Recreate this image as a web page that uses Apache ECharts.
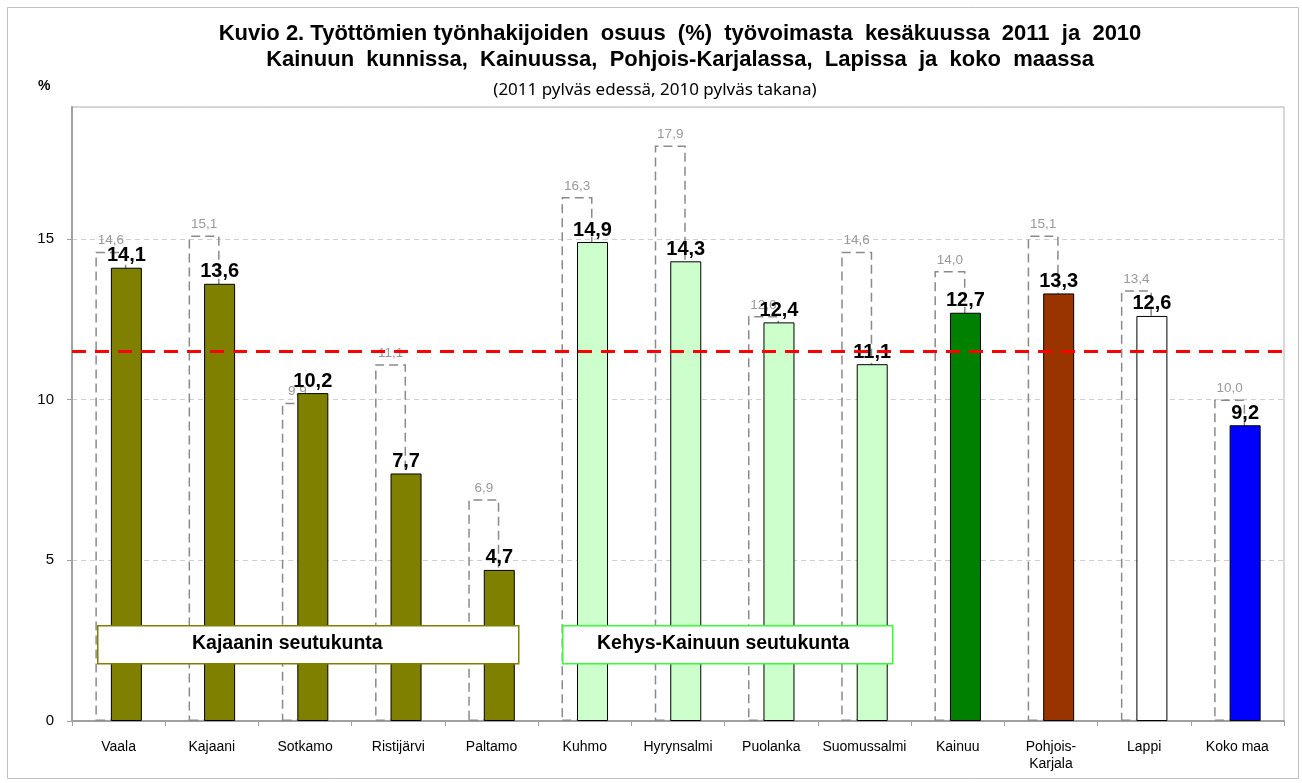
<!DOCTYPE html>
<html><head><meta charset="utf-8">
<script src="https://cdn.jsdelivr.net/npm/echarts@6/dist/echarts.min.js"></script>
<style>html,body{margin:0;padding:0;background:#fff}#c{width:1302px;height:783px}</style>
</head><body><div id="c"></div>
<script>
const categories = ['Vaala','Kajaani','Sotkamo','Ristijärvi','Paltamo','Kuhmo','Hyrynsalmi','Puolanka','Suomussalmi','Kainuu','Pohjois-\nKarjala','Lappi','Koko maa'];
const values2011 = [14.1,13.6,10.2,7.7,4.7,14.9,14.3,12.4,11.1,12.7,13.3,12.6,9.2];
const values2010 = [14.6,15.1,9.9,11.1,6.9,16.3,17.9,12.6,14.6,14.0,15.1,13.4,10.0];
const refLevel = 11.5;
const yTicks = [0,5,10,15];

const barColors = ['#808000','#808000','#808000','#808000','#808000','#CCFFCC','#CCFFCC','#CCFFCC','#CCFFCC','#008000','#993300','#FFFFFF','#0000FF'];
const fmt = v => v.toFixed(1).replace('.', ',');

const chart = echarts.init(document.getElementById('c'));
chart.setOption({
  animation: false,
  backgroundColor: '#fff',
  title: [
    {text: 'Kuvio 2. Työttömien työnhakijoiden  osuus  (%)  työvoimasta  kesäkuussa  2011  ja  2010\nKainuun  kunnissa,  Kainuussa,  Pohjois-Karjalassa,  Lapissa  ja  koko  maassa',
     left: 675, top: 16, textAlign: 'center',
     textStyle: {fontFamily: 'Arial', fontSize: 22, fontWeight: 'bold', color: '#000', lineHeight: 26}},
    {text: '(2011 pylväs edessä, 2010 pylväs takana)', left: 650, top: 77, textAlign: 'center',
     textStyle: {fontFamily: 'Noto Sans', fontSize: 17, fontWeight: 'normal', color: '#000'}},
    {text: '%', left: 33, top: 74, textStyle: {fontFamily: 'Arial', fontSize: 14, fontWeight: 'bold', color: '#000'}}
  ],
  grid: {left: 72, right: 18, top: 107, bottom: 62, show: true, borderColor: '#b0b0b0', borderWidth: 1},
  xAxis: {
    type: 'category', data: categories,
    axisLine: {lineStyle: {color: '#a0a0a0', width: 2}},
    axisTick: {show: true, length: 5, lineStyle: {color: '#a0a0a0'}},
    axisLabel: {fontFamily: 'Arial', fontSize: 14, color: '#000', margin: 18, lineHeight: 17, interval: 0}
  },
  yAxis: {
    type: 'value', min: 0, max: 19.1, interval: 5,
    axisLine: {show: true, lineStyle: {color: '#a0a0a0', width: 2}},
    axisTick: {show: true, length: 5, lineStyle: {color: '#a0a0a0'}},
    axisLabel: {fontFamily: 'Arial', fontSize: 15, color: '#000', margin: 18, showMaxLabel: false,
      formatter: v => yTicks.includes(v) ? String(v) : ''},
    splitLine: {show: true, lineStyle: {color: '#d0d0d0', type: [5, 4]}}
  },
  series: [
    {
      name: '2010', type: 'bar', barWidth: 31, barGap: '-50%',
      data: values2010,
      itemStyle: {color: 'rgba(0,0,0,0)', borderColor: '#8a8a8a', borderWidth: 1.5, borderType: [9, 5]},
      label: {show: true, position: 'top', distance: 4, formatter: p => fmt(p.value),
        fontFamily: 'Arial', fontSize: 13.5, color: '#999'},
      z: 2
    },
    {
      name: '2011', type: 'bar', barWidth: 31,
      data: values2011.map((v, i) => ({value: v, itemStyle: {color: barColors[i]}})),
      itemStyle: {borderColor: '#000', borderWidth: 1},
      label: {show: true, position: 'top', distance: 2, formatter: p => fmt(p.value),
        fontFamily: 'Arial', fontSize: 20, fontWeight: 'bold', color: '#000'},
      markLine: {silent: true, symbol: 'none', label: {show: false},
        lineStyle: {color: '#ff0000', width: 3, type: [14, 9]},
        data: [{yAxis: refLevel}]},
      z: 3
    }
  ],
  graphic: [
    {type: 'rect', left: 5, top: 5, z: 0, silent: true, shape: {width: 1291, height: 771}, style: {fill: 'none', stroke: '#c0c0c0', lineWidth: 1}},
    {type: 'rect', left: 97, top: 625, z: 100, shape: {width: 421, height: 38}, style: {fill: '#fff', stroke: '#808000', lineWidth: 1.5}},
    {type: 'text', left: 192, top: 634, z: 101, style: {text: 'Kajaanin seutukunta', font: 'bold 19.5px Arial', fill: '#000'}},
    {type: 'rect', left: 562, top: 625, z: 100, shape: {width: 330, height: 38}, style: {fill: '#fff', stroke: '#33ff33', lineWidth: 1.5}},
    {type: 'text', left: 597, top: 634, z: 101, style: {text: 'Kehys-Kainuun seutukunta', font: 'bold 19.5px Arial', fill: '#000'}}
  ]
});
</script></body></html>
